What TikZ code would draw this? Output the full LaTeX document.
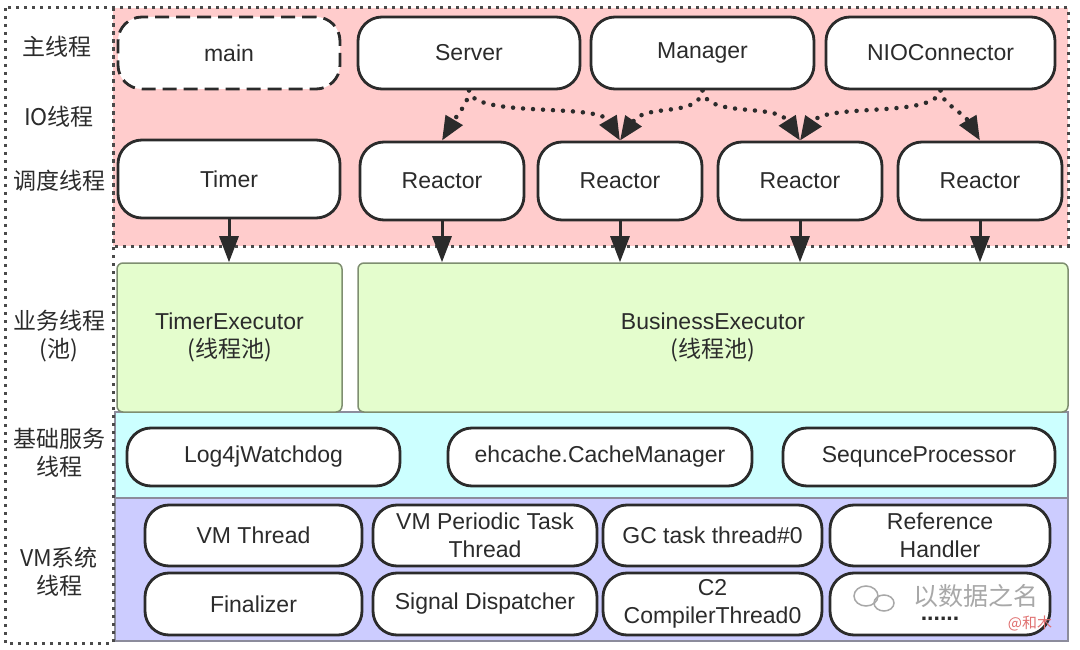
\documentclass[tikz,border=0pt]{standalone}
\usepackage{fontspec}
\setmainfont{Liberation Sans}
\newfontfamily\cjk{Noto Sans CJK SC}
\usetikzlibrary{arrows.meta}
\definecolor{pinkbg}{HTML}{FFCCCC}
\definecolor{greenbg}{HTML}{E4FDCD}
\definecolor{greenbd}{HTML}{7E8E70}
\definecolor{cyanbg}{HTML}{CCFFFF}
\definecolor{purplebg}{HTML}{CCCCFF}
\definecolor{bandbd}{HTML}{8C8C9C}
\definecolor{ink}{HTML}{2B2B2B}
\definecolor{framec}{HTML}{4A4A4A}
\definecolor{wmgray}{HTML}{A8A8A8}
\definecolor{wmred}{HTML}{E07070}
\begin{document}
\begin{tikzpicture}[x=1pt,y=-1pt, font=\fontsize{23}{28}\selectfont, text=ink,
 pill/.style={draw=ink, line width=2.8pt, fill=white, rounded corners=24pt, inner sep=0pt, align=center},
 pool/.style={draw=greenbd, fill=greenbg, line width=1.5pt, rounded corners=6pt, inner sep=0pt, align=center},
 band/.style={draw=bandbd, line width=1.5pt},
 framedot/.style={draw=framec, line width=3pt, dash pattern=on 3pt off 5pt},
 lbl/.style={font=\cjk\fontsize{23}{28}\selectfont, align=center, inner sep=0pt},
 flow/.style={draw=ink, line width=3pt, -{Triangle[length=26pt,width=19pt]}},
 dotflow/.style={draw=ink, line width=4.5pt, line cap=round, dash pattern=on 0pt off 10pt, -{Triangle[length=24pt,width=19pt]}},
]
\useasboundingbox (0,0) rectangle (1080,650);

% background regions
\fill[pinkbg] (113,8) rectangle (1068,246);
\draw[band, fill=cyanbg] (115,412) rectangle (1068,498);
\draw[band, fill=purplebg] (115,498) rectangle (1068,641);

% thread pools
\node[pool, minimum width=225pt, minimum height=149pt] (tex) at (229.5,337.5) {TimerExecutor\\{\cjk(线程池)}};
\node[pool, minimum width=710pt, minimum height=149pt] (bex) at (713,337.5) {BusinessExecutor\\{\cjk(线程池)}};

% frames
\draw[framedot] (5,8) rectangle (113,643);
\draw[framedot] (113,8) rectangle (1068,246);

% row labels
\node[lbl] (l1) at (57,47) {主线程};
\node[lbl] (l2) at (59,117) {IO线程};
\node[lbl] (l3) at (59,181) {调度线程};
\node[lbl] (l4) at (59,336) {业务线程\\(池)};
\node[lbl] (l5) at (59,453) {基础服务\\线程};
\node[lbl] (l6) at (59,572) {VM系统\\线程};

% main threads
\node[pill, dash pattern=on 14pt off 7pt, minimum width=222pt, minimum height=72pt] (main) at (229,53) {main};
\node[pill, minimum width=222pt, minimum height=72pt] (srv) at (469,53) {Server};
\node[pill, minimum width=223pt, minimum height=72pt] (mgr) at (702.5,53) {Manager};
\node[pill, minimum width=229pt, minimum height=72pt] (nio) at (940.5,53) {NIOConnector};

% scheduling threads
\node[pill, minimum width=222pt, minimum height=78pt] (timer) at (229,179) {Timer};
\node[pill, minimum width=164pt, minimum height=78pt] (r1) at (442,181) {Reactor};
\node[pill, minimum width=164pt, minimum height=78pt] (r2) at (620,181) {Reactor};
\node[pill, minimum width=164pt, minimum height=78pt] (r3) at (800,181) {Reactor};
\node[pill, minimum width=164pt, minimum height=78pt] (r4) at (980,181) {Reactor};

% base services
\node[pill, minimum width=273pt, minimum height=58pt] (log) at (263.5,457) {Log4jWatchdog};
\node[pill, minimum width=304pt, minimum height=58pt] (ehc) at (600,457) {ehcache.CacheManager};
\node[pill, minimum width=272pt, minimum height=58pt] (seq) at (919,457) {SequnceProcessor};

% VM threads
\node[pill, minimum width=217pt, minimum height=61pt] (vm1) at (253.5,535.5) {VM Thread};
\node[pill, minimum width=224pt, minimum height=61pt] (vm2) at (485,535.5) {VM Periodic Task\\Thread};
\node[pill, minimum width=219pt, minimum height=61pt] (vm3) at (712.5,535.5) {GC task thread\#0};
\node[pill, minimum width=220pt, minimum height=61pt] (vm4) at (940,535.5) {Reference\\Handler};
\node[pill, minimum width=217pt, minimum height=62pt] (vm5) at (253.5,604) {Finalizer};
\node[pill, minimum width=224pt, minimum height=62pt] (vm6) at (485,604) {Signal Dispatcher};
\node[pill, minimum width=219pt, minimum height=62pt] (vm7) at (712.5,604) {C2\\CompilerThread0};
\node[pill, minimum width=220pt, minimum height=62pt] (vm8) at (940,604) {};

% solid arrows
\draw[flow] (timer.south) -- (timer.south |- tex.north);
\draw[flow] (r1.south) -- (r1.south |- bex.north);
\draw[flow] (r2.south) -- (r2.south |- bex.north);
\draw[flow] (r3.south) -- (r3.south |- bex.north);
\draw[flow] (r4.south) -- (r4.south |- bex.north);

% dotted arrows
\draw[dotflow] (srv.south) .. controls +(0,12) and +(16,-27) .. (r1.north);
\draw[dotflow] (srv.south) .. controls +(3,28) and +(-22,-38) .. (r2.north);
\draw[dotflow] (mgr.south) .. controls +(-4,28) and +(26,-38) .. (r2.north);
\draw[dotflow] (mgr.south) .. controls +(4,28) and +(-24,-38) .. (r3.north);
\draw[dotflow] (nio.south) .. controls +(-5,28) and +(26,-38) .. (r3.north);
\draw[dotflow] (nio.south) .. controls +(0,12) and +(-16,-27) .. (r4.north);

% watermark
\draw[wmgray, line width=1.5pt] (866,596) ellipse (12pt and 10pt);
\draw[wmgray, line width=1.5pt] (884,603) ellipse (10pt and 8pt);
\node[font=\cjk\fontsize{25}{30}\selectfont, text=wmgray, inner sep=0pt] (wm) at (976,596) {以数据之名};
\node[font=\bfseries\fontsize{23}{28}\selectfont, inner sep=0pt] (dots) at (940,619) {......};
\node[font=\cjk\fontsize{15}{18}\selectfont, text=wmred, inner sep=0pt] (wm2) at (1030,624) {@和木};
\end{tikzpicture}
\end{document}
